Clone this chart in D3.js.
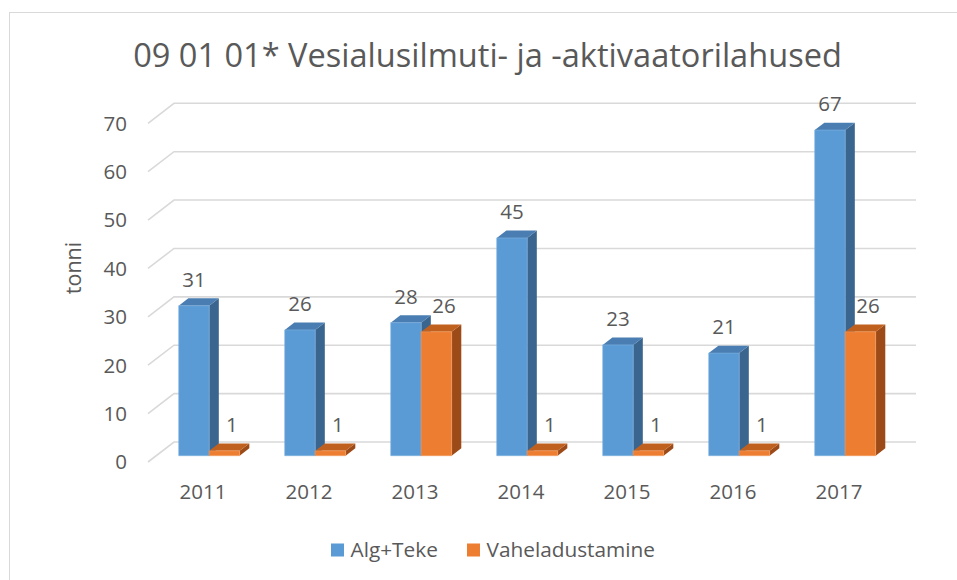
<!DOCTYPE html>
<html>
<head>
<meta charset="utf-8">
<script src="https://cdn.jsdelivr.net/npm/d3@7"></script>
<style>
  html, body { margin: 0; padding: 0; background: #ffffff; }
  svg { display: block; }
  text { font-family: "Open Sans", "Liberation Sans", sans-serif; fill: #595959; }
</style>
</head>
<body>
<svg id="chart" width="957" height="580"></svg>
<script>
// ---- data ----
const title = "09 01 01* Vesialusilmuti- ja -aktivaatorilahused";
const yAxisTitle = "tonni";
const categories = ["2011", "2012", "2013", "2014", "2015", "2016", "2017"];
const seriesNames = ["Alg+Teke", "Vaheladustamine"];
const algTeke = [31, 26, 27.5, 45, 22.9, 21.2, 67.3];
const vaheladustamine = [1, 1, 25.6, 1, 1, 1, 25.6];
const yTicks = [0, 10, 20, 30, 40, 50, 60, 70];

// ---- styles ----
const faceColors = [
  { front: "#5B9BD5", top: "#4A7EB2", side: "#3A658F", edge: "#7FB2E0" },
  { front: "#ED7D31", top: "#C0601F", side: "#9C4B18", edge: "#F39A5C" }
];
const gridColor = "#D9D9D9";
const DX = 26, DY = 20;       // depth vector of the floor (front -> back wall)
const d0 = 0.315, d1 = 0.685; // bar depth span

const svg = d3.select("#chart");

// chart border (box extends past the picture on right/bottom)
svg.append("rect").attr("x", 9.5).attr("y", 12.5).attr("width", 1000).attr("height", 1000)
  .attr("fill", "none").attr("stroke", "#D9D9D9").attr("stroke-width", 1);

// scales (front plane)
const x0 = d3.scaleBand().domain(categories).range([148, 890]);
const x1 = d3.scaleBand().domain(seriesNames)
  .range([x0.bandwidth() * 0.2125, x0.bandwidth() * 0.7875]);
const y = d3.scaleLinear().domain([0, 70]).range([462, 123.3]);

const proj = (xf, v, d) => [xf + d * DX, y(v) - d * DY];

// gridlines: back wall + left side wall
const grid = svg.append("g");
yTicks.forEach(t => {
  const a = proj(x0.range()[0], t, 0), b = proj(x0.range()[0], t, 1), c = proj(x0.range()[1], t, 1);
  grid.append("path")
    .attr("d", d3.line()([a, b, c]))
    .attr("fill", "none").attr("stroke", gridColor).attr("stroke-width", 1.6);
});

// y tick labels
svg.append("g").selectAll("text").data(yTicks).join("text")
  .attr("x", 127).attr("y", d => y(d))
  .attr("dy", "0.36em")
  .attr("text-anchor", "end")
  .style("font-size", "20.5px")
  .text(d => d);

// x tick labels
svg.append("g").selectAll("text").data(categories).join("text")
  .attr("x", d => x0(d) + x0.bandwidth() / 2 + 2)
  .attr("y", 499)
  .attr("text-anchor", "middle")
  .style("font-size", "20.5px")
  .text(d => d);

// bars
const seriesValues = [algTeke, vaheladustamine];
const labelShift = [0, 7.5];
const poly = pts => "M" + pts.map(p => p.join(",")).join("L") + "Z";
const barsG = svg.append("g");
const labelsG = svg.append("g");
categories.forEach((cat, i) => {
  seriesNames.forEach((s, j) => {
    const v = seriesValues[j][i];
    const xl = x0(cat) + x1(s), xr = xl + x1.bandwidth();
    const col = faceColors[j];
    const g = barsG.append("g");
    // side
    g.append("path").attr("d", poly([proj(xr, 0, d0), proj(xr, 0, d1), proj(xr, v, d1), proj(xr, v, d0)]))
      .attr("fill", col.side);
    // top
    g.append("path").attr("d", poly([proj(xl, v, d0), proj(xr, v, d0), proj(xr, v, d1), proj(xl, v, d1)]))
      .attr("fill", col.top);
    // front
    g.append("path").attr("d", poly([proj(xl, 0, d0), proj(xr, 0, d0), proj(xr, v, d0), proj(xl, v, d0)]))
      .attr("fill", col.front).attr("stroke", col.edge).attr("stroke-width", 0.6);
    // label
    const pTop = proj((xl + xr) / 2, v, d0);
    labelsG.append("text")
      .attr("x", pTop[0] + labelShift[j])
      .attr("y", pTop[1] - 19)
      .attr("text-anchor", "middle")
      .style("font-size", "20.5px")
      .text(Math.round(v));
  });
});

// y axis title
svg.append("text")
  .attr("transform", "translate(81,268) rotate(-90)")
  .attr("text-anchor", "middle")
  .style("font-size", "21.5px")
  .text(yAxisTitle);

// title (fit to the reference width)
const tEl = svg.append("text")
  .attr("x", 487.5).attr("y", 67)
  .attr("text-anchor", "middle")
  .style("font-size", "30px")
  .text(title);
const w = tEl.node().getComputedTextLength();
tEl.style("font-size", (30 * 709 / w).toFixed(2) + "px");

// legend
const legendItems = [
  { name: seriesNames[0], color: faceColors[0].front, x: 331 },
  { name: seriesNames[1], color: faceColors[1].front, x: 467 }
];
const lg = svg.append("g");
legendItems.forEach(it => {
  lg.append("rect").attr("x", it.x).attr("y", 543.5).attr("width", 13).attr("height", 13).attr("fill", it.color);
  lg.append("text").attr("x", it.x + 19.5).attr("y", 557)
    .style("font-size", "20.8px").text(it.name);
});
</script>
</body>
</html>
